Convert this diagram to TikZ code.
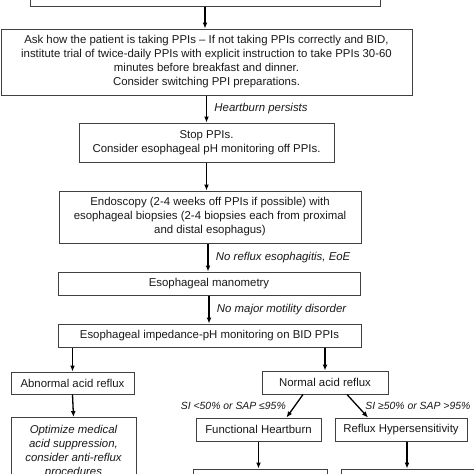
\documentclass[tikz,border=0pt]{standalone}
\usepackage{fontspec}
\setmainfont{Liberation Sans}
\usetikzlibrary{arrows.meta,calc}
\newcommand\fsz{\fontsize{11.4}{14}\selectfont}
\newcommand\fss{\fontsize{10.4}{14}\selectfont}
\begin{document}
\begin{tikzpicture}[x=1pt,y=-1pt,
  box/.style={draw=black!75, line width=1pt, inner sep=0pt, align=center, font=\fsz, text=black!90},
  arr/.style={line width=1.3pt, -{Latex[length=6pt,width=5pt]}},
  lbl/.style={font=\fsz\itshape, text=black!90},
  slbl/.style={font=\fss\itshape, text=black!90}]
\useasboundingbox (0,0) rectangle (474,474);
\clip (0,0) rectangle (474,474);
\fill[white] (0,0) rectangle (474,474);

\node[box, minimum width=350pt, minimum height=52pt] (b1) at (205,-20) {};
\node[box, minimum width=411pt, minimum height=66pt] (b2) at (206.5,62) {Ask how the patient is taking PPIs -- If not taking PPIs correctly and BID,\\institute trial of twice-daily PPIs with explicit instruction to take PPIs 30-60\\minutes before breakfast and dinner.\\Consider switching PPI preparations.};
\node[box, minimum width=255pt, minimum height=39pt] (b3) at (206.5,142.5) {Stop PPIs.\\Consider esophageal pH monitoring off PPIs.};
\node[box, minimum width=302pt, minimum height=52pt] (b4) at (210,217) {Endoscopy (2-4 weeks off PPIs if possible) with\\esophageal biopsies (2-4 biopsies each from proximal\\and distal esophagus)};
\node[box, minimum width=302pt, minimum height=23pt] (b5) at (209,283.5) {Esophageal manometry};
\node[box, minimum width=303pt, minimum height=23pt] (b6) at (209.5,335.5) {Esophageal impedance-pH monitoring on BID PPIs};
\node[box, minimum width=123pt, minimum height=22pt] (ab) at (72.5,383) {Abnormal acid reflux};
\node[box, minimum width=125pt, anchor=north, inner ysep=7.5pt, font=\fsz\itshape] (op) at (73.5,417) {Optimize medical\\acid suppression,\\consider anti-reflux\\procedures};
\node[box, minimum width=126pt, minimum height=23pt] (nar) at (325,382.5) {Normal acid reflux};
\node[box, minimum width=125pt, minimum height=23pt] (fh) at (258.5,429.5) {Functional Heartburn};
\node[box, minimum width=132pt, minimum height=23pt] (rh) at (401,429.5) {Reflux Hypersensitivity};
\node[box, minimum width=134pt, minimum height=22pt] (e1) at (260,480) {};
\node[box, minimum width=144pt, minimum height=22pt] (e2) at (413,480) {};

\draw[arr] (b1.south) -- (b1.south |- b2.north);
\draw[arr] (b2.south) -- (b2.south |- b3.north) node[midway, right, lbl, xshift=4pt] {Heartburn persists};
\draw[arr] (b3.south) -- (b3.south |- b4.north);
\draw[arr] ([xshift=-2pt]b4.south) -- ([xshift=-2pt]b4.south |- b5.north) node[midway, right, lbl, xshift=4pt] {No reflux esophagitis, EoE};
\draw[arr] (b5.south) -- (b5.south |- b6.north) node[midway, right, lbl, xshift=4pt] {No major motility disorder};
\draw[arr] (b6.south -| ab.north) -- (ab.north);
\draw[arr] (b6.south -| nar.north) -- (nar.north);
\draw[arr] (ab.south) -- (op.north);
\draw[arr] ([xshift=-22pt]nar.south) -- ([xshift=28pt]fh.north) node[midway, anchor=east, slbl, xshift=-5pt] {SI <50\% or SAP ≤95\%};
\draw[arr] ([xshift=22pt]nar.south) -- ([xshift=-33pt]rh.north) node[midway, anchor=west, slbl, xshift=4pt] {SI ≥50\% or SAP >95\%};
\draw[arr] (fh.south) -- (fh.south |- e1.north);
\draw[arr] ([xshift=6pt]rh.south) -- ([xshift=6pt]rh.south |- e2.north);
\end{tikzpicture}
\end{document}
